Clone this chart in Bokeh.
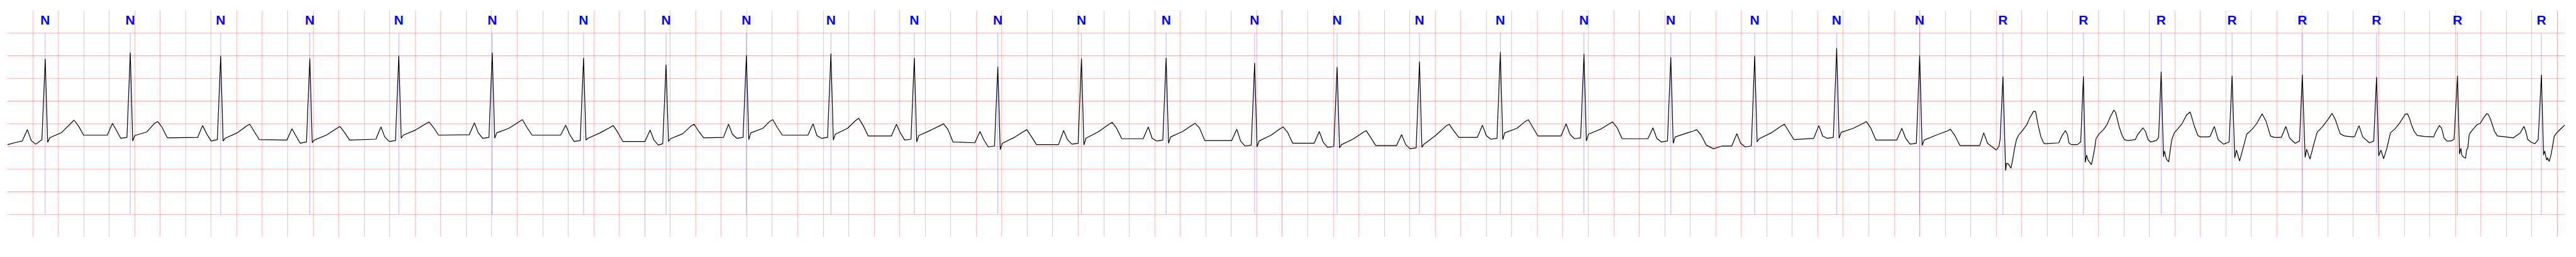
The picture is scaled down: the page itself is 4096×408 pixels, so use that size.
from bokeh.plotting import figure
from bokeh.models import Range1d, Grid, FixedTicker
from bokeh.core.properties import value
from bokeh.embed import file_html
from bokeh.resources import INLINE

# Beat annotations (time of R peak, s) and their labels
beat_t = [0.298, 0.965, 1.674, 2.373, 3.071, 3.804, 4.520, 5.167, 5.797, 6.460,
          7.114, 7.769, 8.425, 9.089, 9.783, 10.430, 11.076, 11.710, 12.366, 13.047,
          13.705, 14.348, 14.999, 15.652, 16.283, 16.893, 17.449, 18.000, 18.582,
          19.217, 19.875]
beat_label = ["N"] * 23 + ["R"] * 8

# ECG trace: time (s)
ecg_t = [
    0.003, 0.070, 0.118, 0.158, 0.188, 0.223, 0.272, 0.298, 0.317, 0.333, 0.428, 0.499, 0.524, 0.559, 0.599,
    0.785, 0.825, 0.855, 0.890, 0.939, 0.965, 0.984, 1.000, 1.095, 1.155, 1.180, 1.215, 1.255,
    1.494, 1.532, 1.564, 1.599, 1.648, 1.674, 1.693, 1.709, 1.804, 1.877, 1.902, 1.937, 1.977,
    2.193, 2.233, 2.263, 2.298, 2.347, 2.373, 2.392, 2.408, 2.503, 2.585, 2.610, 2.645, 2.685,
    2.891, 2.931, 2.961, 2.996, 3.045, 3.071, 3.090, 3.106, 3.201, 3.283, 3.308, 3.343, 3.383,
    3.624, 3.664, 3.694, 3.729, 3.778, 3.804, 3.823, 3.839, 3.934, 4.016, 4.041, 4.076, 4.116,
    4.340, 4.380, 4.410, 4.445, 4.494, 4.520, 4.539, 4.555, 4.650, 4.728, 4.753, 4.788, 4.828,
    5.002, 5.042, 5.072, 5.107, 5.141, 5.167, 5.186, 5.202, 5.297, 5.362, 5.387, 5.422, 5.462,
    5.617, 5.657, 5.687, 5.722, 5.771, 5.797, 5.816, 5.832, 5.927, 5.979, 6.004, 6.039, 6.079,
    6.280, 6.320, 6.350, 6.385, 6.434, 6.460, 6.479, 6.495, 6.590, 6.653, 6.678, 6.713, 6.753,
    6.934, 6.974, 7.004, 7.039, 7.088, 7.114, 7.133, 7.149, 7.244, 7.317, 7.342, 7.377, 7.417,
    7.589, 7.629, 7.659, 7.694, 7.743, 7.769, 7.788, 7.804, 7.899, 7.972, 7.997, 8.032, 8.072,
    8.245, 8.285, 8.315, 8.350, 8.399, 8.425, 8.444, 8.460, 8.555, 8.641, 8.666, 8.701, 8.741,
    8.909, 8.949, 8.979, 9.014, 9.063, 9.089, 9.108, 9.124, 9.219, 9.292, 9.317, 9.352, 9.392,
    9.603, 9.643, 9.673, 9.708, 9.757, 9.783, 9.802, 9.818, 9.913, 9.982, 10.007, 10.042, 10.082,
    10.250, 10.290, 10.320, 10.355, 10.404, 10.430, 10.449, 10.465, 10.560, 10.633, 10.658, 10.693, 10.733,
    10.896, 10.936, 10.966, 11.001, 11.050, 11.076, 11.095, 11.111, 11.206, 11.284, 11.309, 11.344, 11.384,
    11.530, 11.570, 11.600, 11.635, 11.684, 11.710, 11.729, 11.745, 11.840, 11.905, 11.930, 11.965, 12.005,
    12.186, 12.226, 12.256, 12.291, 12.340, 12.366, 12.385, 12.401, 12.496, 12.565, 12.590, 12.625, 12.665,
    12.867, 12.907, 12.937, 12.972, 13.021, 13.047, 13.066, 13.082, 13.177, 13.225, 13.250, 13.285, 13.325, 13.382, 13.450,
    13.525, 13.565, 13.595, 13.630, 13.679, 13.705, 13.724, 13.740, 13.835, 13.913, 13.938, 13.973, 14.013,
    14.168, 14.208, 14.238, 14.273, 14.322, 14.348, 14.367, 14.383, 14.478, 14.556, 14.581, 14.616, 14.656,
    14.819, 14.859, 14.889, 14.924, 14.973, 14.999, 15.018, 15.034, 15.129, 15.215, 15.240, 15.275, 15.315,
    15.470, 15.501, 15.531, 15.600, 15.620, 15.630, 15.652, 15.673, 15.680, 15.696, 15.715, 15.729, 15.744,
    15.758, 15.777, 15.805, 15.839, 15.860, 15.894, 15.908, 15.927, 15.949, 15.970, 15.983, 16.090,
    16.112, 16.141, 16.158, 16.169, 16.188, 16.236, 16.262, 16.283, 16.298, 16.308, 16.319, 16.346, 16.359,
    16.372, 16.382, 16.407, 16.440, 16.468, 16.495, 16.522, 16.536, 16.563, 16.584, 16.604, 16.631, 16.690,
    16.708, 16.750, 16.770, 16.790, 16.810, 16.855, 16.873, 16.893, 16.911, 16.918, 16.934, 16.952,
    16.961, 16.976, 16.996, 17.024, 17.058, 17.092, 17.120, 17.133, 17.154, 17.181, 17.202, 17.257,
    17.276, 17.310, 17.340, 17.383, 17.426, 17.449, 17.470, 17.483, 17.508, 17.534, 17.564, 17.607,
    17.641, 17.685, 17.715, 17.750, 17.780, 17.836,
    17.871, 17.901, 17.944, 17.978, 18.000, 18.022, 18.034, 18.060, 18.086, 18.116, 18.159, 18.202,
    18.233, 18.259, 18.297, 18.332, 18.397,
    18.410, 18.444, 18.474, 18.526, 18.560, 18.582, 18.599, 18.616, 18.638, 18.664, 18.691, 18.727,
    18.762, 18.807, 18.825, 18.838, 18.856, 18.874, 18.901, 18.959, 19.030,
    19.044, 19.075, 19.093, 19.111, 19.133, 19.168, 19.190, 19.217, 19.233, 19.243, 19.251, 19.262,
    19.280, 19.289, 19.298, 19.309, 19.316, 19.343, 19.370, 19.396, 19.419, 19.445, 19.458, 19.477,
    19.490, 19.508, 19.530, 19.565, 19.655,
    19.709, 19.738, 19.753, 19.767, 19.790, 19.824, 19.850, 19.875, 19.892, 19.901, 19.916, 19.923,
    19.936, 19.950, 19.963, 19.975, 19.995, 20.013, 20.031, 20.058,
]

# ECG trace: amplitude (mV)
ecg_mv = [
    0.04, 0.09, 0.12, 0.37, 0.13, 0.05, 0.15, 1.93, 0.09, 0.19, 0.31, 0.51, 0.58, 0.45, 0.25,
    0.25, 0.51, 0.36, 0.18, 0.20, 2.07, 0.12, 0.24, 0.32, 0.51, 0.55, 0.42, 0.19,
    0.20, 0.46, 0.28, 0.12, 0.15, 2.00, 0.12, 0.18, 0.30, 0.45, 0.49, 0.33, 0.15,
    0.14, 0.39, 0.24, 0.07, 0.10, 1.94, 0.08, 0.14, 0.25, 0.40, 0.44, 0.31, 0.14,
    0.16, 0.43, 0.21, 0.11, 0.13, 2.00, 0.18, 0.25, 0.36, 0.50, 0.54, 0.42, 0.25,
    0.26, 0.52, 0.30, 0.18, 0.20, 2.07, 0.18, 0.30, 0.40, 0.55, 0.59, 0.42, 0.25,
    0.25, 0.47, 0.27, 0.11, 0.13, 1.95, 0.14, 0.18, 0.30, 0.42, 0.46, 0.31, 0.11,
    0.11, 0.36, 0.14, 0.03, 0.06, 1.80, 0.11, 0.17, 0.28, 0.45, 0.49, 0.34, 0.19,
    0.20, 0.49, 0.27, 0.18, 0.20, 2.01, 0.15, 0.30, 0.40, 0.55, 0.59, 0.42, 0.25,
    0.25, 0.50, 0.24, 0.18, 0.20, 2.05, 0.14, 0.27, 0.40, 0.57, 0.62, 0.46, 0.23,
    0.23, 0.49, 0.30, 0.14, 0.16, 1.95, 0.10, 0.24, 0.36, 0.46, 0.50, 0.38, 0.10,
    0.08, 0.33, 0.15, -0.01, 0.01, 1.76, -0.07, 0.07, 0.20, 0.33, 0.37, 0.22, 0.04,
    0.04, 0.35, 0.15, 0.05, 0.07, 1.94, 0.03, 0.18, 0.32, 0.49, 0.53, 0.40, 0.17,
    0.17, 0.43, 0.18, 0.12, 0.14, 1.95, 0.07, 0.21, 0.33, 0.47, 0.51, 0.40, 0.13,
    0.13, 0.38, 0.12, 0.01, 0.03, 1.84, -0.01, 0.12, 0.25, 0.39, 0.43, 0.31, 0.07,
    0.07, 0.33, 0.10, -0.02, 0.00, 1.75, -0.03, 0.04, 0.17, 0.31, 0.35, 0.20, 0.02,
    0.02, 0.26, 0.05, -0.05, -0.03, 1.87, -0.02, 0.05, 0.25, 0.45, 0.49, 0.35, 0.20,
    0.20, 0.47, 0.24, 0.16, 0.18, 2.08, 0.15, 0.30, 0.40, 0.55, 0.59, 0.42, 0.23,
    0.23, 0.50, 0.27, 0.17, 0.19, 2.04, 0.12, 0.27, 0.38, 0.50, 0.54, 0.42, 0.17,
    0.17, 0.41, 0.18, 0.10, 0.12, 1.97, 0.07, 0.21, 0.30, 0.34, 0.37, 0.25, 0.03, -0.05, 0.01,
    0.01, 0.28, 0.07, -0.01, 0.01, 2.00, 0.10, 0.17, 0.30, 0.45, 0.49, 0.33, 0.15,
    0.18, 0.46, 0.23, 0.18, 0.20, 2.17, 0.18, 0.31, 0.40, 0.51, 0.55, 0.40, 0.14,
    0.14, 0.40, 0.18, 0.05, 0.07, 2.01, 0.02, 0.14, 0.25, 0.34, 0.38, 0.24, 0.02,
    0.02, 0.30, 0.07, -0.08, 0.00, 0.15, 1.54, -0.53, -0.37, -0.39, -0.48, -0.28, -0.03,
    0.15, 0.26, 0.35, 0.48, 0.62, 0.78, 0.77, 0.48, 0.22, 0.08, 0.06, 0.08,
    0.22, 0.35, 0.26, 0.08, 0.04, 0.04, 0.10, 1.54, -0.35, -0.19, -0.30, -0.40, -0.23,
    -0.03, 0.17, 0.28, 0.37, 0.48, 0.66, 0.80, 0.75, 0.44, 0.26, 0.15, 0.13, 0.15,
    0.26, 0.41, 0.33, 0.15, 0.10, 0.13, 0.20, 1.65, -0.23, -0.10, -0.28, -0.34,
    -0.14, 0.15, 0.30, 0.39, 0.51, 0.69, 0.76, 0.64, 0.44, 0.24, 0.21, 0.21,
    0.22, 0.44, 0.15, 0.05, 0.10, 1.56, -0.25, -0.08, -0.32, -0.05, 0.27, 0.38,
    0.50, 0.72, 0.56, 0.23, 0.20, 0.20,
    0.44, 0.18, 0.07, 0.12, 1.58, -0.24, -0.06, -0.28, 0.01, 0.31, 0.44, 0.60,
    0.73, 0.59, 0.28, 0.23, 0.21,
    0.22, 0.46, 0.21, 0.08, 0.12, 1.53, -0.21, -0.08, -0.27, -0.03, 0.30, 0.39,
    0.51, 0.71, 0.72, 0.64, 0.48, 0.35, 0.24, 0.22, 0.21,
    0.31, 0.46, 0.40, 0.19, 0.12, 0.12, 0.16, 1.56, -0.17, -0.04, -0.19, -0.23,
    -0.26, -0.07, -0.03, 0.26, 0.30, 0.39, 0.48, 0.51, 0.62, 0.72, 0.71, 0.59,
    0.48, 0.33, 0.23, 0.22, 0.19,
    0.30, 0.44, 0.33, 0.16, 0.10, 0.06, 0.15, 1.58, -0.19, -0.10, -0.30, -0.25,
    -0.33, -0.19, 0.01, 0.22, 0.30, 0.35, 0.40, 0.47,
]
assert len(ecg_t) == len(ecg_mv)

# ECG paper grid: 0.2 s and 0.5 mV boxes
grid_x = [round(0.2 * i, 1) for i in range(101)]
grid_y = [-2.0, -1.5, -1.0, -0.5, 0.0, 0.5, 1.0, 1.5, 2.0, 2.5]

p = figure(width=4084, height=400,
           x_range=Range1d(0, 20.06), y_range=Range1d(-2.0, 3.0),
           x_axis_location=None, y_axis_location=None,
           output_backend="svg", toolbar_location=None,
           min_border_left=11, min_border_right=6,
           min_border_top=16, min_border_bottom=24)
p.outline_line_color = None
p.background_fill_color = "white"
p.border_fill_color = "white"

p.add_layout(Grid(dimension=0, ticker=FixedTicker(ticks=grid_x),
                  grid_line_color="red", grid_line_alpha=0.25, grid_line_width=1.1))
p.add_layout(Grid(dimension=1, ticker=FixedTicker(ticks=grid_y),
                  grid_line_color="red", grid_line_alpha=0.25, grid_line_width=1.1))

# annotation markers
p.segment(x0=beat_t, y0=-1.5, x1=beat_t, y1=2.5,
          line_color="blue", line_alpha=0.5, line_width=0.6)

# ECG trace
p.line(ecg_t, ecg_mv, line_color="black", line_width=1.2)

# beat labels
p.text(x=beat_t, y=[3.0] * len(beat_t), text=beat_label,
       text_font=value("Liberation Sans"), text_font_style="bold",
       text_font_size="21px", text_color="blue",
       text_align="center", text_baseline="top", y_offset=3)

open("out.html", "w").write(file_html(p, INLINE))
